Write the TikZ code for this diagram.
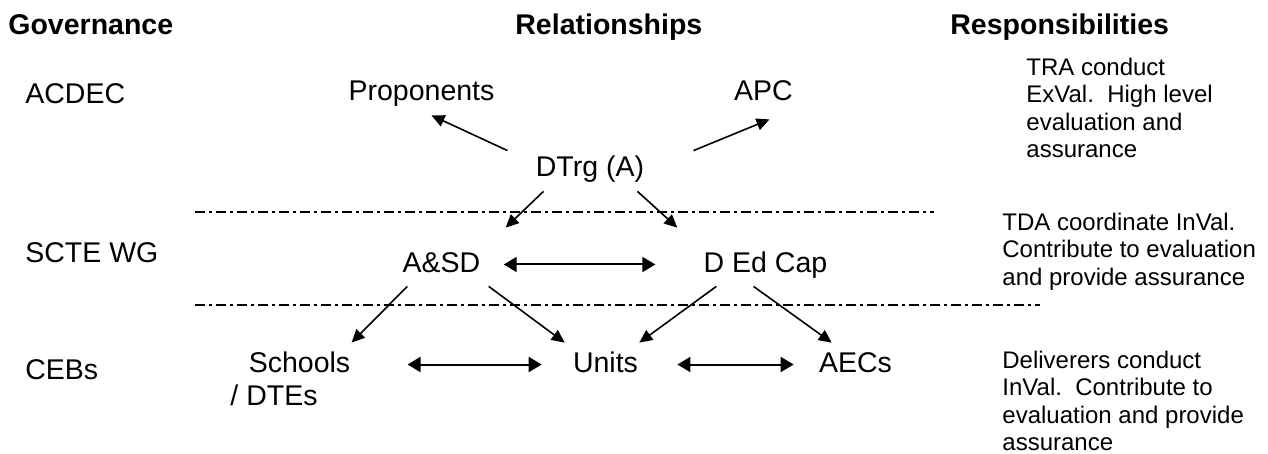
\documentclass[tikz,border=0pt]{standalone}
\usepackage{fontspec}
\setmainfont{Liberation Sans}
\usetikzlibrary{arrows.meta, positioning}

\begin{document}
\begin{tikzpicture}[x=0.5pt, y=-0.5pt,
        heading/.style={anchor=base west, inner sep=0pt, font=\fontsize{14.25}{16.4}\selectfont\bfseries},
        govtext/.style={anchor=base west, inner sep=0pt, font=\fontsize{14.25}{16.4}\selectfont},
        relbox/.style={anchor=base, inner sep=4pt, text height=10.5pt, text depth=3pt, font=\fontsize{14.25}{16.4}\selectfont},
        resptext/.style={anchor=north west, inner sep=0pt, align=left, font=\fontsize{12}{13.75}\selectfont},
        arr/.style={-{Triangle[length=6.5pt, width=6pt]}, line width=0.8pt},
        dbl/.style={{Triangle[length=6.5pt, width=7.5pt]}-{Triangle[length=6.5pt, width=7.5pt]}, line width=1pt},
        divider/.style={line width=0.6pt, dash pattern=on 5pt off 2pt on 1.5pt off 2pt}
    ]
        \useasboundingbox (0,0) rectangle (1268,454);

        % Headings
        \node[heading] (govhead) at (8,35) {Governance};
        \node[heading] (relhead) at (515,35) {Relationships};
        \node[heading] (resphead) at (950,35) {Responsibilities};

        % Governance levels
        \node[govtext] (acdec) at (25,104) {ACDEC};
        \node[govtext] (sctewg) at (25,263) {SCTE WG};
        \node[govtext] (cebs) at (25,379) {CEBs};

        % Nodes
        \node[relbox] (prop) at (421.5,101) {Proponents};
        \node[relbox] (apc) at (763.5,101) {APC};
        \node[relbox] (dtrg) at (590,177) {DTrg (A)};
        \node[relbox] (asd) at (441.5,272) {A\&SD};
        \node[relbox] (dedcap) at (765.5,272) {D Ed Cap};
        \node[relbox] (schools) at (299.5,372) {Schools};
        \node[relbox] (dtes) at (274,405) {/ DTEs};
        \node[relbox] (units) at (605.5,372) {Units};
        \node[relbox] (aecs) at (855.5,372) {AECs};

        % Responsibilities
        \node[resptext] (trainres) at (1026,57.6) {TRA conduct\\ExVal.\ \ High level\\evaluation and\\assurance};
        \node[resptext] (tdares) at (1002,212.6) {TDA coordinate InVal.\\Contribute to evaluation\\and provide assurance};
        \node[resptext] (delres) at (1002,350.6) {Deliverers conduct\\InVal.\ \ Contribute to\\evaluation and provide\\assurance};

        % Level dividers
        \draw[divider] (195,212) -- (934,212);
        \draw[divider] (195,305) -- (1040,305);

        % Arrows
        \draw[arr] ([xshift=-10pt, yshift=-1.5pt]dtrg.north west) -- ([xshift=5pt]prop.south);
        \draw[arr] ([xshift=20.5pt, yshift=-1.5pt]dtrg.north east) -- ([xshift=3pt, yshift=-2pt]apc.south);
        \draw[arr] ([xshift=8pt]dtrg.south west) -- ([xshift=8.5pt, yshift=7.5pt]asd.north east);
        \draw[arr] ([xshift=-7.5pt]dtrg.south east) -- ([xshift=-9pt, yshift=7.5pt]dedcap.north west);
        \draw[arr] ([xshift=6.5pt]asd.south west) -- ([xshift=-3.5pt]schools.north east);
        \draw[arr] (asd.south east) -- (units.north west);
        \draw[arr] ([xshift=10.5pt]dedcap.south west) -- ([xshift=-3.5pt]units.north east);
        \draw[arr] ([xshift=-6pt]dedcap.south) -- ([xshift=10.5pt]aecs.north west);
        \draw[dbl, shorten <=7.5pt, shorten >=20pt] (asd.east) -- (dedcap.west);
        \draw[dbl, shorten <=24.5pt, shorten >=11.5pt] (schools.east) -- (units.west);
        \draw[dbl, shorten <=15.5pt, shorten >=8.5pt] (units.east) -- (aecs.west);
    \end{tikzpicture}
\end{document}
